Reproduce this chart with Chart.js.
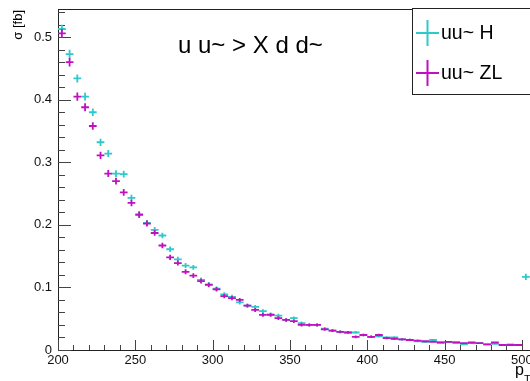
<!DOCTYPE html>
<html><head><meta charset="utf-8">
<script src="https://cdn.jsdelivr.net/npm/chart.js@4"></script>
<style>html,body{margin:0;padding:0;background:#fff}#wrap{width:530px;height:381px;position:relative}</style>
</head><body><div id="wrap"><canvas id="c" width="530" height="381"></canvas></div>
<script>
// ---- data ----
const binLow = 200;
const binWidth = 5;
const xTicks = [200, 250, 300, 350, 400, 450, 500];
const yTicks = [0, 0.1, 0.2, 0.3, 0.4, 0.5];
const seriesNames = ['uu~ H', 'uu~ ZL'];
const titleText = 'u u~ > X d d~';
const yTitle = 'σ [fb]';
const xTitleMain = 'p';
const xTitleSub = 'T';
const valuesH = [0.513,0.473,0.434,0.405,0.380,0.332,0.314,0.282,0.281,0.243,
                 0.217,0.203,0.192,0.183,0.161,0.145,0.135,0.132,0.112,0.105,
                 0.098,0.089,0.085,0.076,0.071,0.069,0.062,0.057,0.055,0.048,
                 0.051,0.043,0.040,0.040,0.034,0.031,0.029,0.028,0.028,0.024,
                 0.021,0.022,0.020,0.020,0.017,0.016,0.014,0.013,0.016,0.012,
                 0.013,0.012,0.009,0.011,0.011,0.009,0.010,0.008,0.009,0.008,
                 0.117];
const valuesZL = [0.506,0.460,0.405,0.388,0.358,0.311,0.282,0.270,0.252,0.235,
                  0.216,0.202,0.187,0.167,0.148,0.139,0.125,0.119,0.110,0.104,
                  0.097,0.086,0.083,0.080,0.071,0.064,0.056,0.056,0.051,0.048,
                  0.046,0.040,0.040,0.040,0.033,0.031,0.029,0.028,0.021,0.024,
                  0.021,0.024,0.019,0.018,0.017,0.016,0.015,0.014,0.013,0.012,
                  0.013,0.012,0.011,0.012,0.011,0.009,0.012,0.008,0.008,0.008];
const binErr = [0.0070,0.0068,0.0065,0.0063,0.0061,0.0058,0.0056,0.0054,0.0053,0.0051,
                0.0050,0.0048,0.0046,0.0045,0.0043,0.0041,0.0040,0.0038,0.0037,0.0036,
                0.0035,0.0034,0.0033,0.0032,0.0031,0.0031,0.0030,0.0029,0.0029,0.0028,
                0.0027,0.0026,0.0025,0.0025,0.0024,0.0023,0.0023,0.0022,0.0022,0.0021,
                0.0020,0.0020,0.0019,0.0019,0.0018,0.0018,0.0017,0.0017,0.0016,0.0016,
                0.0015,0.0015,0.0015,0.0014,0.0014,0.0014,0.0013,0.0013,0.0013,0.0012,
                0.0050];
const colors = ['#2fc9c9', '#c010c0'];

const FONT = '"Liberation Sans", Arial, sans-serif';

function toPoints(vals) {
  return vals.map((v, i) => ({ x: binLow + binWidth * (i + 0.5), y: v, e: binErr[i] }));
}

const rootPlugin = {
  id: 'rootStyle',
  afterDatasetsDraw(chart) {
    const ctx = chart.ctx;
    const xs = chart.scales.x, ys = chart.scales.y;
    const area = chart.chartArea;
    ctx.save();
    // frame top
    ctx.strokeStyle = '#222';
    ctx.lineWidth = 1;
    ctx.beginPath();
    ctx.moveTo(area.left, area.top + 0.5);
    ctx.lineTo(area.right, area.top + 0.5);
    ctx.stroke();
    // y ticks (inward)
    ctx.strokeStyle = '#444';
    for (let v = 0; v <= 0.545 + 1e-9; v += 0.02) {
      const y = Math.round(ys.getPixelForValue(v)) + 0.5;
      const major = Math.abs(v * 10 - Math.round(v * 10)) < 1e-6;
      ctx.beginPath();
      ctx.moveTo(area.left, y);
      ctx.lineTo(area.left + (major ? 13 : 7), y);
      ctx.stroke();
    }
    // x ticks (inward)
    for (let v = 200; v <= 505; v += 10) {
      const x = Math.round(xs.getPixelForValue(v)) + 0.5;
      const major = v % 50 === 0;
      ctx.beginPath();
      ctx.moveTo(x, area.bottom);
      ctx.lineTo(x, area.bottom - (major ? 10 : 5));
      ctx.stroke();
    }
    // crosses
    chart.data.datasets.forEach((ds, di) => {
      ctx.strokeStyle = colors[di];
      ctx.lineWidth = 1.8;
      ds.data.forEach(p => {
        if (p.y == null) return;
        const x0 = xs.getPixelForValue(p.x - binWidth / 2);
        const x1 = xs.getPixelForValue(p.x + binWidth / 2);
        const xc = xs.getPixelForValue(p.x);
        const yc = ys.getPixelForValue(p.y);
        const yt = ys.getPixelForValue(p.y + p.e);
        const yb = ys.getPixelForValue(p.y - p.e);
        ctx.beginPath();
        ctx.moveTo(x0, yc); ctx.lineTo(x1, yc);
        ctx.moveTo(xc, yt); ctx.lineTo(xc, yb);
        ctx.stroke();
      });
    });
    // title
    ctx.fillStyle = '#000';
    ctx.font = '24px ' + FONT;
    ctx.textBaseline = 'middle';
    ctx.textAlign = 'left';
    ctx.fillText(titleText, 178, 46);
    // legend box
    ctx.fillStyle = '#fff';
    ctx.fillRect(412.5, 8.5, 130, 86);
    ctx.strokeStyle = '#222';
    ctx.lineWidth = 1;
    ctx.strokeRect(412.5, 8.5, 130, 86);
    const legY = [33, 73];
    seriesNames.forEach((name, i) => {
      ctx.strokeStyle = colors[i];
      ctx.lineWidth = 2;
      ctx.beginPath();
      ctx.moveTo(416, legY[i]); ctx.lineTo(439, legY[i]);
      ctx.moveTo(427.5, legY[i] - 13); ctx.lineTo(427.5, legY[i] + 13);
      ctx.stroke();
      ctx.fillStyle = '#000';
      ctx.font = '19.5px ' + FONT;
      ctx.textAlign = 'left';
      ctx.textBaseline = 'middle';
      ctx.fillText(name, 441, legY[i] + 1);
    });
    // y title
    ctx.save();
    ctx.translate(18, 10);
    ctx.rotate(-Math.PI / 2);
    ctx.font = '13px ' + FONT;
    ctx.textAlign = 'right';
    ctx.textBaseline = 'middle';
    ctx.fillStyle = '#000';
    ctx.fillText(yTitle, 0, 0);
    ctx.restore();
    // x title
    ctx.font = '16px ' + FONT;
    ctx.textAlign = 'left';
    ctx.textBaseline = 'alphabetic';
    ctx.fillStyle = '#000';
    ctx.fillText(xTitleMain, 515, 375);
    ctx.font = '11px ' + FONT;
    ctx.fillText(xTitleSub, 524, 383);
    ctx.restore();
  }
};

new Chart(document.getElementById('c'), {
  type: 'scatter',
  data: {
    datasets: [
      { label: seriesNames[0], data: toPoints(valuesH), pointRadius: 0, showLine: false },
      { label: seriesNames[1], data: toPoints(valuesZL), pointRadius: 0, showLine: false }
    ]
  },
  options: {
    responsive: false,
    animation: false,
    devicePixelRatio: 1,
    layout: { padding: { top: 9, right: 0, left: 0, bottom: 0 } },
    plugins: { legend: { display: false }, tooltip: { enabled: false } },
    scales: {
      x: {
        type: 'linear', min: 200, max: 505.2,
        afterBuildTicks: s => { s.ticks = xTicks.map(v => ({ value: v })); },
        ticks: { font: { size: 13, family: FONT }, color: '#111', padding: 3, maxRotation: 0, autoSkip: false,
                 callback: v => String(v) },
        grid: { display: false, drawTicks: false },
        border: { display: true, color: '#222', width: 1 },
        afterFit: s => { s.height = 31; s.paddingLeft = 0; s.paddingRight = 0; }
      },
      y: {
        type: 'linear', min: 0, max: 0.545,
        afterBuildTicks: s => { s.ticks = yTicks.map(v => ({ value: v })); },
        ticks: { font: { size: 13, family: FONT }, color: '#111', padding: 6,
                 callback: v => (v === 0 ? '0' : v.toFixed(1)) },
        grid: { display: false, drawTicks: false },
        border: { display: true, color: '#222', width: 1 },
        afterFit: s => { s.width = 58; s.paddingTop = 0; s.paddingBottom = 0; }
      }
    }
  },
  plugins: [rootPlugin]
});
</script>
</body></html>
